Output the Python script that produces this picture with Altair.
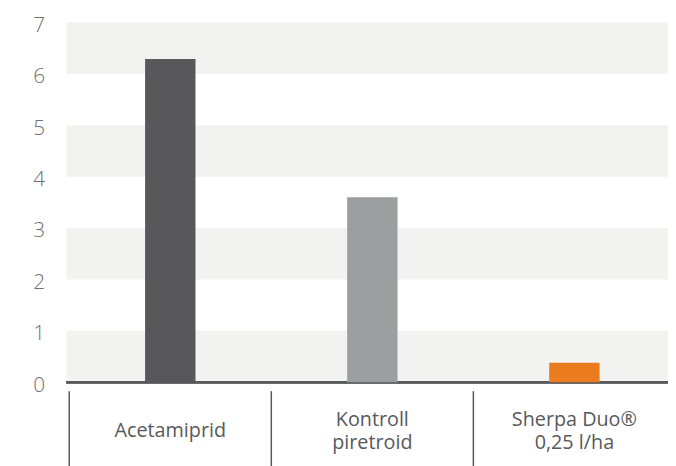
import altair as alt
import pandas as pd

categories = ["Acetamiprid", "Kontroll|piretroid", "Sherpa Duo®|0,25 l/ha"]
values = [6.29, 3.6, 0.38]
colors = ["#58585a", "#9d9ea0", "#eb7b1f"]

band_lo = [0, 2, 4, 6]
band_hi = [1, 3, 5, 7]
y_ticks = [0, 1, 2, 3, 4, 5, 6, 7]

W = 609
H = 364
FONT = "Open Sans"

bars_df = pd.DataFrame({"cat": categories, "val": values, "color": colors})
bands_df = pd.DataFrame({"lo": band_lo, "hi": band_hi})

# the category bands run on past the right edge of the visible plot
x_scale = alt.Scale(domain=categories, paddingInner=0, paddingOuter=0, range=[3, 616.5])
y_scale = alt.Scale(domain=[0, 7], nice=False)

label_style = dict(title=None, labelAngle=0, domain=False, ticks=False, orient="bottom",
                   labelBaseline="middle", labelFontSize=20, labelFont=FONT,
                   labelColor="#58595b")

bands = alt.Chart(bands_df).mark_rect(color="#f2f2f0").encode(
    x=alt.value(0),
    x2=alt.value(W),
    y=alt.Y("lo:Q", scale=y_scale, axis=alt.Axis(
        values=y_ticks, format="d", grid=False, domain=False, ticks=False, title=None,
        labelPadding=22, labelFontSize=21, labelFont=FONT, labelFontWeight=300,
        labelColor="#6d6e70", labelBaseline="middle", labelOffset=3)),
    y2="hi:Q",
)

# first line of each category label
bars = alt.Chart(bars_df).mark_bar(size=51).encode(
    x=alt.X("cat:N", scale=x_scale, sort=categories, axis=alt.Axis(
        labelExpr="split(datum.label, '|')[0]",
        labelPadding={"condition": {"test": "indexof(datum.value, '|') >= 0", "value": 38}, "value": 49},
        **label_style)),
    y=alt.Y("val:Q", scale=y_scale),
    color=alt.Color("color:N", scale=None, legend=None),
)

baseline = alt.Chart(bars_df).mark_rule(color="#58595b", strokeWidth=2.5).encode(
    x=alt.value(0),
    x2=alt.value(W),
    y=alt.datum(0, scale=y_scale),
)

# second line of the two-line category labels
dividers = alt.Chart(bars_df).mark_rule(color="#58595b", strokeWidth=1.5).encode(
    x=alt.X("cat:N", scale=x_scale, sort=categories, bandPosition=0, axis=alt.Axis(
        labelExpr="length(split(datum.label, '|')) > 1 ? split(datum.label, '|')[1] : ''",
        labelPadding=61, **label_style)),
    y=alt.value(H + 9),
    y2=alt.value(H + 100),
)

chart = alt.layer(bands, baseline, bars, dividers).resolve_axis(x="independent").properties(
    width=W,
    height=H,
    padding={"left": 59, "top": 12, "right": 0, "bottom": 82},
    autosize=alt.AutoSizeParams(type="none"),
).configure_view(stroke=None)

chart.save("out.html", embed_options={"renderer": "svg", "actions": False})
